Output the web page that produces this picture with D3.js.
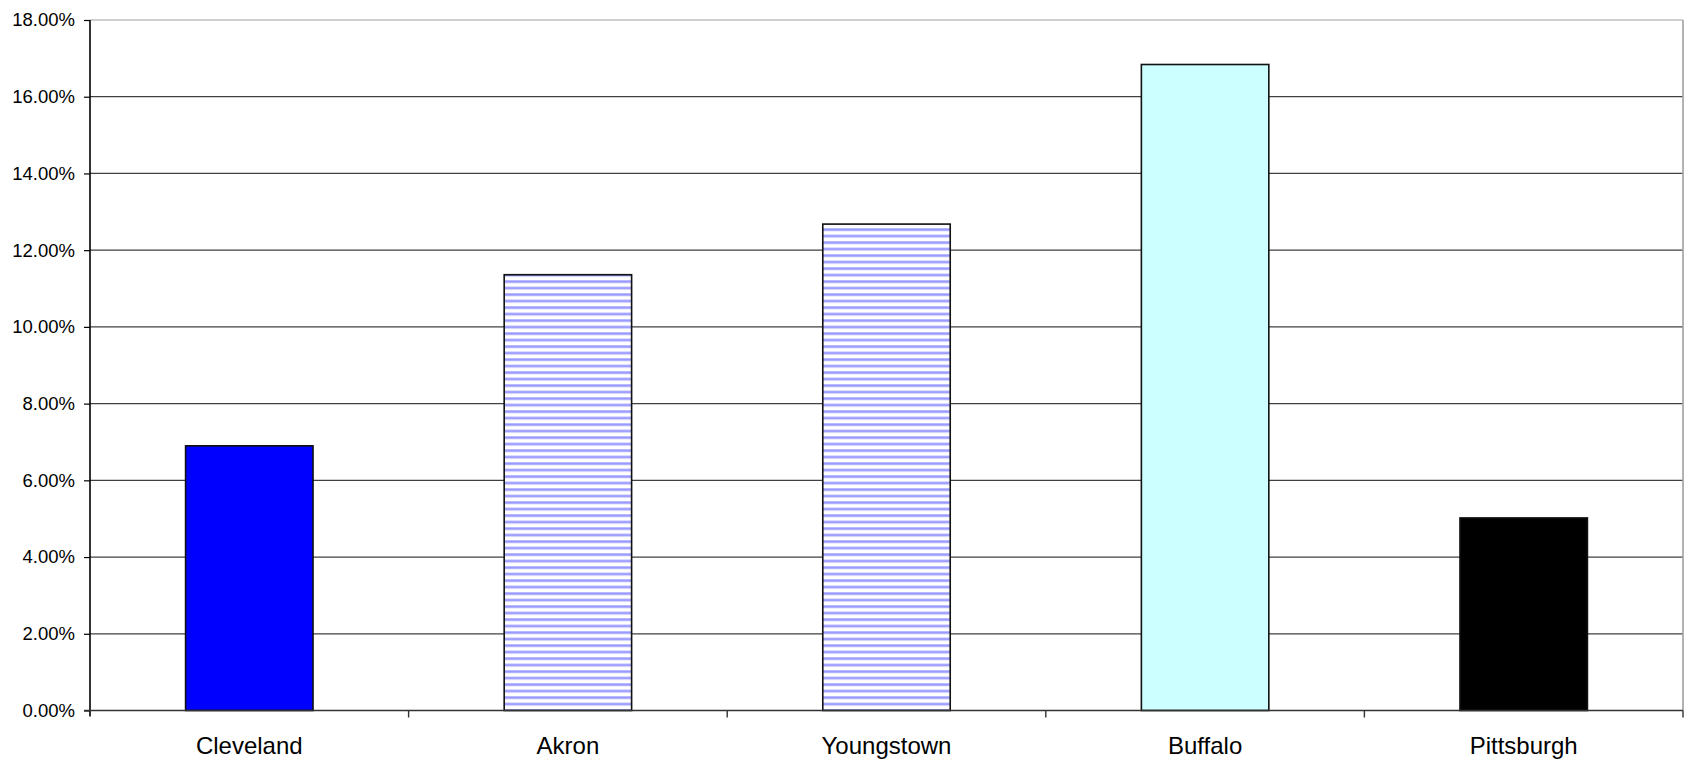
<!DOCTYPE html>
<html>
<head>
<meta charset="utf-8">
<script src="https://cdn.jsdelivr.net/npm/d3@7"></script>
<style>
  html, body { margin: 0; padding: 0; background: #fff; }
  svg { display: block; font-family: "Liberation Sans", Arial, sans-serif; }
</style>
</head>
<body>
<svg id="chart" width="1685" height="759"></svg>
<script>
// Categories and their percentage values
const cities = ["Cleveland", "Akron", "Youngstown", "Buffalo", "Pittsburgh"];
const values = [0.0690, 0.1136, 0.1268, 0.1684, 0.0502];
const fills = ["#0000ff", "url(#stripes)", "url(#stripes)", "#ccffff", "#000000"];
const yTicks = [0, 0.02, 0.04, 0.06, 0.08, 0.10, 0.12, 0.14, 0.16, 0.18];

const svg = d3.select("#chart");
const margin = { top: 20, right: 2, bottom: 48.5, left: 90 };
const W = 1685, H = 759;
const plotW = W - margin.left - margin.right;
const plotH = H - margin.top - margin.bottom;

// Horizontal stripe fill for the hatched bars
const defs = svg.append("defs");
const pat = defs.append("pattern")
  .attr("id", "stripes")
  .attr("patternUnits", "userSpaceOnUse")
  .attr("width", 8).attr("height", 6.5);
pat.append("rect").attr("width", 8).attr("height", 6.5).attr("fill", "#ffffff");
pat.append("rect").attr("y", 0).attr("width", 8).attr("height", 3.2).attr("fill", "#ccccff");
pat.append("rect").attr("y", 0.6).attr("width", 8).attr("height", 2).attr("fill", "#9999ff");

const g = svg.append("g").attr("transform", `translate(${margin.left},${margin.top})`);

const x = d3.scaleBand().domain(cities).range([0, plotW]).paddingInner(0.6).paddingOuter(0.3);
const xCat = d3.scaleBand().domain(cities).range([0, plotW]).padding(0);
const y = d3.scaleLinear().domain([0, 0.18]).range([plotH, 0]);

// Gridlines
g.append("g").selectAll("line").data(yTicks.filter(d => d > 0)).join("line")
  .attr("x1", 0).attr("x2", plotW)
  .attr("y1", d => y(d)).attr("y2", d => y(d))
  .attr("stroke", d => d === 0.18 ? "#a0a0a0" : "#404040")
  .attr("stroke-width", 1.2);

// Right border of the plot area
g.append("line")
  .attr("x1", plotW).attr("x2", plotW).attr("y1", 0).attr("y2", plotH)
  .attr("stroke", "#a0a0a0").attr("stroke-width", 1.6);

// Bars
g.append("g").selectAll("rect").data(cities).join("rect")
  .attr("x", d => x(d))
  .attr("y", (d, i) => y(values[i]))
  .attr("width", x.bandwidth())
  .attr("height", (d, i) => y(0) - y(values[i]))
  .attr("fill", (d, i) => fills[i])
  .attr("stroke", "#111")
  .attr("stroke-width", 1.6);

// Y axis
const yAxis = d3.axisLeft(y).tickValues(yTicks).tickFormat(d3.format(".2%")).tickSize(6).tickPadding(9);
const ya = g.append("g").call(yAxis);
ya.select(".domain").attr("stroke", "#000").attr("stroke-width", 1.6).attr("d", `M0,${plotH + 6}V0`);
ya.selectAll(".tick line").attr("stroke", "#000").attr("stroke-width", 1.2);
ya.selectAll("text").attr("font-size", "18.5px").attr("fill", "#000");

// X axis: ticks at category boundaries
const xa = g.append("g").attr("transform", `translate(0,${plotH})`);
xa.append("line").attr("x1", -6).attr("x2", plotW).attr("y1", 0).attr("y2", 0)
  .attr("stroke", "#333").attr("stroke-width", 1.6);
xa.selectAll(".bt").data(cities.slice(1).concat(["_end"])).join("line")
  .attr("class", "bt")
  .attr("x1", d => d === "_end" ? plotW : xCat(d))
  .attr("x2", d => d === "_end" ? plotW : xCat(d))
  .attr("y1", 0).attr("y2", 7)
  .attr("stroke", "#333").attr("stroke-width", 1.4);
xa.selectAll(".lbl").data(cities).join("text")
  .attr("class", "lbl")
  .attr("x", d => xCat(d) + xCat.bandwidth() / 2)
  .attr("y", 43)
  .attr("text-anchor", "middle")
  .attr("font-size", "24px")
  .attr("fill", "#000")
  .text(d => d);
</script>
</body>
</html>
